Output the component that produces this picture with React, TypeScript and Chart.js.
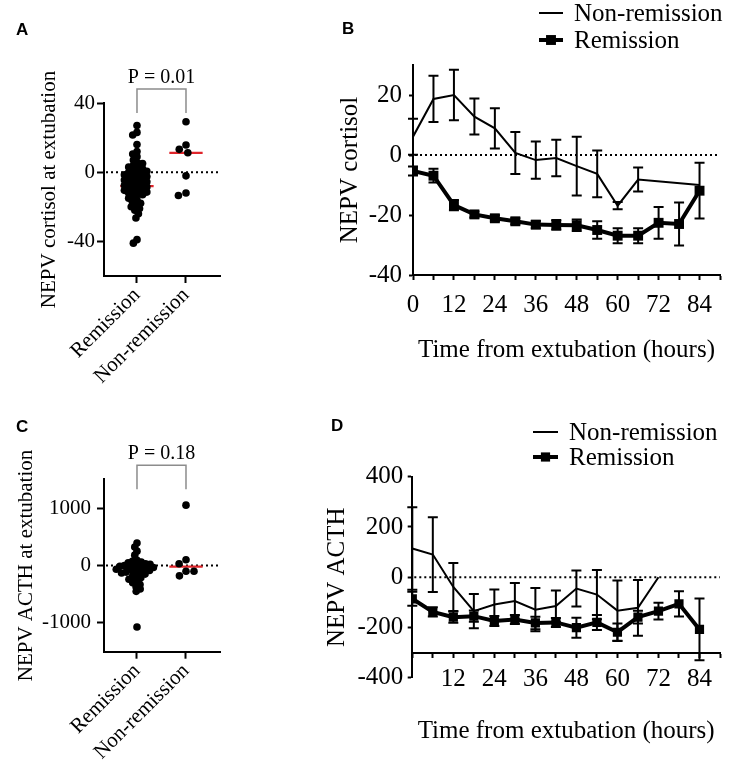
import React, { useEffect, useRef } from 'react';
import { Chart, registerables } from 'chart.js';

Chart.register(...registerables);

const SERIF = '"Liberation Serif", "Times New Roman", Times, serif';
const SANS = '"Liberation Sans", Arial, Helvetica, sans-serif';
const RED = '#e0252b';

// ---------- Panel A: NEPV cortisol at extubation ----------
const groupLabels = ['Remission', 'Non-remission'];
const cortisolRemission = [
  27, 23, 21.5, 16, 12, 10.5, 9, 7, 5.5, 5, 4, 3, 2.5, 2,
  1, 0.5, 0, -0.5, -1, -1.5, -2, -2.5, -3, -3.5, -4, -4.5, -5, -5.5, -6, -6.5, -7, -7.5, -8, -8.5,
  -9, -9.5, -10, -10.5, -11, -11.5, -12, -12.5, -13, -14, -15, -16, -17, -18,
  -19, -20, -21, -22, -24, -26.5, -39, -41,
];
const cortisolNonRemission = [29.2, 15.7, 13.2, 11.2, -2.1, -12, -13.5];
const cortisolMedians = [-8, 11.2];
const cortisolTicks = [-40, 0, 40];
const cortisolPValue = 'P = 0.01';

// ---------- Panel C: NEPV ACTH at extubation ----------
const acthRemission = [
  390, 320, 250, 180,
  90, 75, 60, 45, 30, 20, 10, 0, -5, -15, -25, -35, -45, -55, -65, -75, -85, -95, -105, -115,
  -130, -150, -170, -190, -215, -240, -270, -300, -330, -370, -410, -450,
  -1070,
];
const acthNonRemission = [1050, 100, 30, -100, -100, -180];
const acthMedians = [-30, -20];
const acthTicks = [-1000, 0, 1000];
const acthPValue = 'P = 0.18';

// ---------- Panel B: NEPV cortisol over time ----------
const cortisolNonHours = [0, 6, 12, 18, 24, 30, 36, 42, 48, 54, 60, 66, 84];
const cortisolNonMean = [6.1, 18.7, 20, 12.8, 8.9, 0.7, -1.7, -1, -3.7, -6.3, -16.9, -8.2, -10];
const cortisolNonSem = [6, 7.7, 8.4, 6, 6.7, 7, 6.2, 6.1, 9.8, 7.8, 1.2, 4, 0];
const cortisolRemHours = [0, 6, 12, 18, 24, 30, 36, 42, 48, 54, 60, 66, 72, 78, 84];
const cortisolRemMean = [-5.3, -6.9, -16.7, -19.8, -21.1, -22.1, -23.2, -23.3, -23.4, -25, -26.9, -26.9, -22.6, -23, -11.9];
const cortisolRemSem = [1.5, 2.3, 1.7, 1, 1, 1, 1.2, 1.6, 1.9, 2.9, 2.5, 2.5, 5.3, 7.2, 9.3];
const cortisolTimeTicks = [-40, -20, 0, 20];
const cortisolHourLabels = [0, 12, 24, 36, 48, 60, 72, 84];

// ---------- Panel D: NEPV ACTH over time ----------
const acthNonHours = [0, 6, 12, 18, 24, 30, 36, 42, 48, 54, 60, 66, 72];
const acthNonMean = [114, 90, -39, -135, -109, -95, -129, -115, -45, -69, -133, -122, 0];
const acthNonSem = [164, 149, 96, 68, 60, 72, 86, 62, 72, 98, 120, 111, 0];
const acthRemHours = [0, 6, 12, 18, 24, 30, 36, 42, 48, 54, 60, 66, 72, 78, 84];
const acthRemMean = [-86, -138, -159, -155, -174, -168, -182, -180, -201, -180, -219, -159, -135, -106, -208];
const acthRemSem = [28, 18, 22, 22, 20, 18, 25, 18, 40, 30, 35, 25, 33, 50, 123];
const acthTimeTicks = [-400, -200, 0, 200, 400];
const acthHourLabels = [12, 24, 36, 48, 60, 72, 84];

// beeswarm layout of dots around a category centre (computed from the values)
function swarm(values: number[], center: number, yPx: number, xPx: number, diam: number) {
  const order = values.map((_, i) => i).sort((a, b) => values[b] - values[a]);
  const placed: { x: number; y: number }[] = [];
  const out: { x: number; y: number }[] = [];
  for (const i of order) {
    const y = values[i] * yPx;
    const cands = [0];
    for (const p of placed) {
      const dy = Math.abs(p.y - y);
      if (dy < diam) {
        const dx = Math.sqrt(diam * diam - dy * dy);
        cands.push(p.x - dx, p.x + dx);
      }
    }
    cands.sort((a, b) => Math.abs(a) - Math.abs(b));
    let x = 0;
    for (const c of cands) {
      if (placed.every((p) => (p.x - c) ** 2 + (p.y - y) ** 2 >= diam * diam - 0.01)) {
        x = c;
        break;
      }
    }
    placed.push({ x, y });
    out.push({ x: center + x / xPx, y: values[i] });
  }
  return out;
}

const decorPlugin = {
  id: 'panelDecor',
  beforeDatasetsDraw(chart: any) {
    const { ctx, chartArea: a, scales } = chart;
    const yy = scales.y.getPixelForValue(0);
    ctx.save();
    ctx.strokeStyle = '#000';
    ctx.lineWidth = 2;
    ctx.setLineDash([2, 3]);
    ctx.beginPath();
    ctx.moveTo(a.left + 2, yy);
    ctx.lineTo(a.right, yy);
    ctx.stroke();
    ctx.restore();
  },
  afterDatasetsDraw(chart: any, _args: any, o: any) {
    const { ctx, scales } = chart;
    ctx.save();
    ctx.strokeStyle = '#000';
    ctx.lineWidth = 2;
    chart.data.datasets.forEach((ds: any) => {
      if (!ds.errorBars) return;
      ds.data.forEach((p: any, j: number) => {
        const e = ds.errorBars[j];
        if (!e) return;
        const x = scales.x.getPixelForValue(p.x);
        const y0 = scales.y.getPixelForValue(p.y - e);
        const y1 = scales.y.getPixelForValue(p.y + e);
        const c = o.cap;
        ctx.beginPath();
        ctx.moveTo(x, y0);
        ctx.lineTo(x, y1);
        ctx.moveTo(x - c, y0);
        ctx.lineTo(x + c, y0);
        ctx.moveTo(x - c, y1);
        ctx.lineTo(x + c, y1);
        ctx.stroke();
      });
    });
    ctx.restore();
  },
  afterDraw(chart: any, _args: any, o: any) {
    const { ctx, chartArea: a, scales } = chart;
    ctx.save();
    ctx.fillStyle = '#000';
    ctx.font = `bold 17px ${SANS}`;
    ctx.textAlign = 'left';
    ctx.textBaseline = 'alphabetic';
    ctx.fillText(o.letter, o.letterX, o.letterY);
    if (o.pValue) {
      const x0 = scales.x.getPixelForValue(0);
      const x1 = scales.x.getPixelForValue(1);
      const yt = a.top - 14;
      const yb = a.top + 10;
      ctx.strokeStyle = '#8c8c8c';
      ctx.lineWidth = 1.5;
      ctx.beginPath();
      ctx.moveTo(x0, yb);
      ctx.lineTo(x0, yt);
      ctx.lineTo(x1, yt);
      ctx.lineTo(x1, yb);
      ctx.stroke();
      ctx.fillStyle = '#000';
      ctx.font = `20px ${SERIF}`;
      ctx.textAlign = 'center';
      ctx.fillText(o.pValue, (x0 + x1) / 2, a.top - 20);
    }
    if (o.legend) {
      const { x0, x1, textX, rows } = o.legend;
      ctx.font = `25px ${SERIF}`;
      ctx.textAlign = 'left';
      ctx.textBaseline = 'middle';
      chart.data.datasets.forEach((ds: any) => {
        if (!ds.label) return;
        const y = rows[ds.legendRow];
        ctx.strokeStyle = '#000';
        ctx.lineWidth = ds.borderWidth;
        ctx.beginPath();
        ctx.moveTo(x0, y);
        ctx.lineTo(x1, y);
        ctx.stroke();
        if (ds.pointRadius > 0) {
          const s = ds.pointRadius * Math.SQRT1_2;
          ctx.fillStyle = '#000';
          ctx.fillRect((x0 + x1) / 2 - s, y - s, 2 * s, 2 * s);
        }
        ctx.fillStyle = '#000';
        ctx.fillText(ds.label, textX, y + 1);
      });
    }
    ctx.restore();
  },
};

const axisGrid = (len: number) => ({
  display: true,
  drawOnChartArea: false,
  drawTicks: true,
  tickLength: len,
  tickColor: '#000',
  tickWidth: 2,
  color: '#000',
});
const axisBorder = { display: true, color: '#000', width: 2 };

function makeDotChart(canvas: HTMLCanvasElement, spec: any) {
  const W = canvas.width;
  const H = canvas.height;
  const a = spec.area;
  const xMin = -0.673;
  const xMax = 1.694;
  const yPx = (a.bottom - a.top) / (spec.yMax - spec.yMin);
  const xPx = (a.right - a.left) / (xMax - xMin);
  const pts = [
    ...swarm(spec.remission, 0, yPx, xPx, spec.diam),
    ...swarm(spec.nonRemission, 1, yPx, xPx, 8),
  ];
  const medianSets = spec.medians.map((m: number, i: number) => ({
    type: 'line',
    data: [
      { x: i - 0.34, y: m },
      { x: i + 0.34, y: m },
    ],
    borderColor: RED,
    borderWidth: 2.2,
    pointRadius: 0,
    showLine: true,
  }));
  return new Chart(canvas, {
    type: 'scatter',
    data: {
      datasets: [
        { data: pts, pointRadius: 3.8, pointHoverRadius: 3.8, backgroundColor: '#000', borderWidth: 0 },
        ...medianSets,
      ],
    },
    options: {
      responsive: false,
      animation: false,
      devicePixelRatio: 1,
      events: [],
      layout: { padding: { left: 0, top: a.top, right: W - a.right, bottom: 0 } },
      plugins: {
        legend: { display: false },
        tooltip: { enabled: false },
        panelDecor: { letter: spec.letter, letterX: spec.letterX, letterY: spec.letterY, pValue: spec.pValue, cap: 0 },
      },
      scales: {
        x: {
          type: 'linear',
          min: xMin,
          max: xMax,
          afterBuildTicks: (s: any) => {
            s.ticks = groupLabels.map((_, i) => ({ value: i }));
          },
          afterFit: (s: any) => {
            s.height = H - a.bottom;
          },
          ticks: {
            callback: (v: any) => groupLabels[v] ?? '',
            minRotation: 45,
            maxRotation: 45,
            autoSkip: false,
            padding: 0,
            font: { family: SERIF, size: 21 },
            color: '#000',
          },
          grid: axisGrid(7),
          border: axisBorder,
        },
        y: {
          min: spec.yMin,
          max: spec.yMax,
          afterBuildTicks: (s: any) => {
            s.ticks = spec.ticks.map((v: number) => ({ value: v }));
          },
          afterFit: (s: any) => {
            s.width = a.left;
          },
          ticks: {
            callback: (v: any) => String(v),
            padding: spec.tickPad,
            font: { family: SERIF, size: 21 },
            color: '#000',
          },
          grid: axisGrid(7),
          border: axisBorder,
          title: {
            display: true,
            text: spec.yTitle,
            font: { family: SERIF, size: 21 },
            color: '#000',
            padding: { top: spec.titlePad, bottom: 0 },
          },
        },
      },
    } as any,
    plugins: [decorPlugin as any],
  });
}

function makeTimeChart(canvas: HTMLCanvasElement, spec: any) {
  const W = canvas.width;
  const a = spec.area;
  const xScale: any = {
    type: 'linear',
    min: 0,
    max: 90,
    afterFit: (s: any) => {
      s.height = spec.xHeight;
    },
    ticks: {
      stepSize: 6,
      autoSkip: false,
      maxRotation: 0,
      minRotation: 0,
      padding: spec.xTickPad,
      callback: (v: any) => (spec.xLabels.includes(v) ? String(v) : ''),
      font: { family: SERIF, size: 25 },
      color: '#000',
    },
    grid: axisGrid(spec.xTickLen),
    border: axisBorder,
    title: {
      display: true,
      text: 'Time from extubation (hours)',
      font: { family: SERIF, size: 25 },
      color: '#000',
      padding: { top: 0, bottom: spec.xTitlePad },
    },
  };
  if (spec.xAt !== undefined) xScale.position = { y: spec.xAt };
  return new Chart(canvas, {
    type: 'line',
    data: {
      datasets: [
        {
          label: 'Non-remission',
          legendRow: 0,
          order: 1,
          data: spec.nonHours.map((h: number, i: number) => ({ x: h, y: spec.nonMean[i] })),
          errorBars: spec.nonSem,
          borderColor: '#000',
          borderWidth: 2,
          pointRadius: 0,
          tension: 0,
          fill: false,
        },
        {
          label: 'Remission',
          legendRow: 1,
          order: 0,
          data: spec.remHours.map((h: number, i: number) => ({ x: h, y: spec.remMean[i] })),
          errorBars: spec.remSem,
          borderColor: '#000',
          borderWidth: 4,
          pointStyle: 'rect',
          pointRadius: spec.markerR,
          pointHoverRadius: spec.markerR,
          pointBackgroundColor: '#000',
          pointBorderWidth: 0,
          tension: 0,
          fill: false,
        },
      ],
    } as any,
    options: {
      responsive: false,
      animation: false,
      devicePixelRatio: 1,
      events: [],
      layout: { padding: { left: 0, top: a.top, right: W - a.right, bottom: spec.padBottom } },
      plugins: {
        legend: { display: false },
        tooltip: { enabled: false },
        panelDecor: {
          letter: spec.letter,
          letterX: spec.letterX,
          letterY: spec.letterY,
          cap: 5,
          legend: spec.legend,
        },
      },
      scales: {
        x: xScale,
        y: {
          min: spec.yMin,
          max: spec.yMax,
          afterBuildTicks: (s: any) => {
            s.ticks = spec.yTicks.map((v: number) => ({ value: v }));
          },
          afterFit: (s: any) => {
            s.width = a.left;
          },
          ticks: {
            callback: (v: any) => String(v),
            padding: spec.yTickPad,
            font: { family: SERIF, size: 25 },
            color: '#000',
          },
          grid: axisGrid(spec.yTickLen),
          border: axisBorder,
          title: {
            display: true,
            text: spec.yTitle,
            font: { family: SERIF, size: 25 },
            color: '#000',
            padding: { top: spec.yTitlePad, bottom: 0 },
          },
        },
      },
    } as any,
    plugins: [decorPlugin as any],
  });
}

export default function App() {
  const aRef = useRef<HTMLCanvasElement>(null);
  const bRef = useRef<HTMLCanvasElement>(null);
  const cRef = useRef<HTMLCanvasElement>(null);
  const dRef = useRef<HTMLCanvasElement>(null);

  useEffect(() => {
    const charts: Chart[] = [];
    charts.push(
      makeDotChart(aRef.current!, {
        remission: cortisolRemission,
        nonRemission: cortisolNonRemission,
        medians: cortisolMedians,
        ticks: cortisolTicks,
        yMin: -60,
        yMax: 40,
        yTitle: 'NEPV cortisol at extubation',
        pValue: cortisolPValue,
        letter: 'A',
        letterX: 16,
        letterY: 35,
        area: { left: 104, top: 103, right: 220, bottom: 276 },
        tickPad: 2,
        titlePad: 37,
        diam: 5,
      })
    );
    charts.push(
      makeDotChart(cRef.current!, {
        remission: acthRemission,
        nonRemission: acthNonRemission,
        medians: acthMedians,
        ticks: acthTicks,
        yMin: -1500,
        yMax: 1500,
        yTitle: 'NEPV ACTH at extubation',
        pValue: acthPValue,
        letter: 'C',
        letterX: 16,
        letterY: 52,
        area: { left: 104, top: 99.3, right: 220, bottom: 271.7 },
        tickPad: 6,
        titlePad: 14,
        diam: 4.6,
      })
    );
    charts.push(
      makeTimeChart(bRef.current!, {
        nonHours: cortisolNonHours,
        nonMean: cortisolNonMean,
        nonSem: cortisolNonSem,
        remHours: cortisolRemHours,
        remMean: cortisolRemMean,
        remSem: cortisolRemSem,
        yMin: -40,
        yMax: 30,
        yTicks: cortisolTimeTicks,
        xLabels: cortisolHourLabels,
        yTitle: 'NEPV cortisol',
        area: { left: 173, top: 65, right: 489, bottom: 275 },
        padBottom: 0,
        xHeight: 105,
        xTickPad: 10,
        xTickLen: 5,
        xTitlePad: 15,
        yTickPad: 7,
        yTickLen: 4,
        yTitlePad: 95,
        markerR: 7,
        letter: 'B',
        letterX: 102,
        letterY: 34,
        legend: { x0: 299, x1: 323, textX: 334, rows: [13, 40] },
      })
    );
    charts.push(
      makeTimeChart(dRef.current!, {
        nonHours: acthNonHours,
        nonMean: acthNonMean,
        nonSem: acthNonSem,
        remHours: acthRemHours,
        remMean: acthRemMean,
        remSem: acthRemSem,
        yMin: -400,
        yMax: 400,
        yTicks: acthTimeTicks,
        xLabels: acthHourLabels,
        xAt: -300,
        yTitle: 'NEPV ACTH',
        area: { left: 172.3, top: 96.7, right: 480, bottom: 297.7 },
        padBottom: 90.3,
        xHeight: 94,
        xTickPad: 7.5,
        xTickLen: 4,
        xTitlePad: 0,
        yTickPad: 4.4,
        yTickLen: 4.6,
        yTitlePad: 82,
        markerR: 6.5,
        letter: 'D',
        letterX: 91,
        letterY: 51,
        legend: { x0: 293, x1: 318, textX: 329, rows: [52, 77] },
      })
    );
    return () => charts.forEach((c) => c.destroy());
  }, []);

  return (
    <div
      style={{
        position: 'absolute',
        left: 0,
        top: 0,
        width: 730,
        height: 768,
        background: '#fff',
        overflow: 'hidden',
      }}
    >
      <canvas ref={aRef} width={240} height={400} style={{ position: 'absolute', left: 0, top: 0 }} />
      <canvas ref={cRef} width={240} height={388} style={{ position: 'absolute', left: 0, top: 380 }} />
      <canvas ref={bRef} width={490} height={380} style={{ position: 'absolute', left: 240, top: 0 }} />
      <canvas ref={dRef} width={490} height={388} style={{ position: 'absolute', left: 240, top: 380 }} />
    </div>
  );
}
